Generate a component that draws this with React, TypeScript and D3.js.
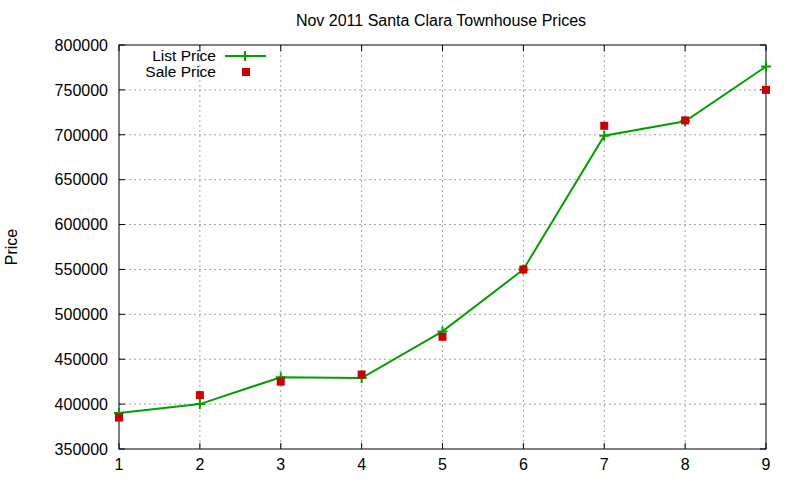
import React from "react";
import * as d3 from "d3";

const xValues = [1, 2, 3, 4, 5, 6, 7, 8, 9];
const listPrice = [390000, 400000, 430000, 429000, 481000, 550000, 699000, 715000, 776000];
const salePrice = [385000, 410000, 425000, 433000, 475000, 550000, 710000, 716000, 750000];
const yTicks = [350000, 400000, 450000, 500000, 550000, 600000, 650000, 700000, 750000, 800000];
const xTicks = [1, 2, 3, 4, 5, 6, 7, 8, 9];

const W = 800, H = 480;
const L = 119, R = 766, T = 45, B = 449;
const FONT = "'Liberation Sans', Arial, sans-serif";
const GREEN = "#00a000";
const RED = "#cc0000";

export default function App() {
  const x = d3.scaleLinear().domain([1, 9]).range([L, R]);
  const y = d3.scaleLinear().domain([350000, 800000]).range([B, T]);
  const line = d3.line<number>().x((_, i) => x(xValues[i])).y((d) => y(d));
  const tick = 6;
  return (
    <svg width={W} height={H} style={{ position: "absolute", left: 0, top: 0, background: "#fff" }} fontFamily={FONT}>
      <rect x={0} y={0} width={W} height={H} fill="#fff" />
      {/* grid */}
      {yTicks.slice(1, -1).map((t) => (
        <line key={"gy" + t} x1={L} x2={R} y1={y(t)} y2={y(t)} stroke="#a0a0a0" strokeWidth={1} strokeDasharray="2,3" />
      ))}
      {xTicks.slice(1, -1).map((t) => (
        <line key={"gx" + t} x1={x(t)} x2={x(t)} y1={T} y2={B} stroke="#a0a0a0" strokeWidth={1} strokeDasharray="2,3" />
      ))}
      {/* ticks */}
      {yTicks.map((t) => (
        <g key={"ty" + t}>
          <line x1={L} x2={L + tick} y1={y(t)} y2={y(t)} stroke="#000" />
          <line x1={R} x2={R - tick} y1={y(t)} y2={y(t)} stroke="#000" />
          <text x={L - 11} y={y(t)} dy="0.36em" textAnchor="end" fontSize={16} fill="#000">{t}</text>
        </g>
      ))}
      {xTicks.map((t) => (
        <g key={"tx" + t}>
          <line x1={x(t)} x2={x(t)} y1={B} y2={B - tick} stroke="#000" />
          <line x1={x(t)} x2={x(t)} y1={T} y2={T + tick} stroke="#000" />
          <text x={x(t)} y={B + 21} textAnchor="middle" fontSize={16} fill="#000">{t}</text>
        </g>
      ))}
      <rect x={L} y={T} width={R - L} height={B - T} fill="none" stroke="#000" strokeWidth={1} />
      {/* title and label */}
      <text x={441} y={26} textAnchor="middle" fontSize={16} fill="#000">Nov 2011 Santa Clara Townhouse Prices</text>
      <text transform={`translate(17,247) rotate(-90)`} textAnchor="middle" fontSize={16} fill="#000">Price</text>
      {/* list price line */}
      <path d={line(listPrice) || ""} fill="none" stroke={GREEN} strokeWidth={2} />
      {listPrice.map((v, i) => (
        <path key={"lp" + i} d={`M${x(xValues[i]) - 5},${y(v)}h10M${x(xValues[i])},${y(v) - 5}v10`} stroke={GREEN} strokeWidth={2} />
      ))}
      {salePrice.map((v, i) => (
        <rect key={"sp" + i} x={x(xValues[i]) - 4} y={y(v) - 4} width={8} height={8} fill={RED} />
      ))}
      {/* legend */}
      <text x={216} y={55} dy="0.36em" textAnchor="end" fontSize={15.5} fill="#000">List Price</text>
      <line x1={225} x2={266} y1={56} y2={56} stroke={GREEN} strokeWidth={2} />
      <path d={`M240,56h10M245,51v10`} stroke={GREEN} strokeWidth={2} />
      <text x={216} y={71} dy="0.36em" textAnchor="end" fontSize={15.5} fill="#000">Sale Price</text>
      <rect x={242} y={68} width={8} height={8} fill={RED} />
    </svg>
  );
}
